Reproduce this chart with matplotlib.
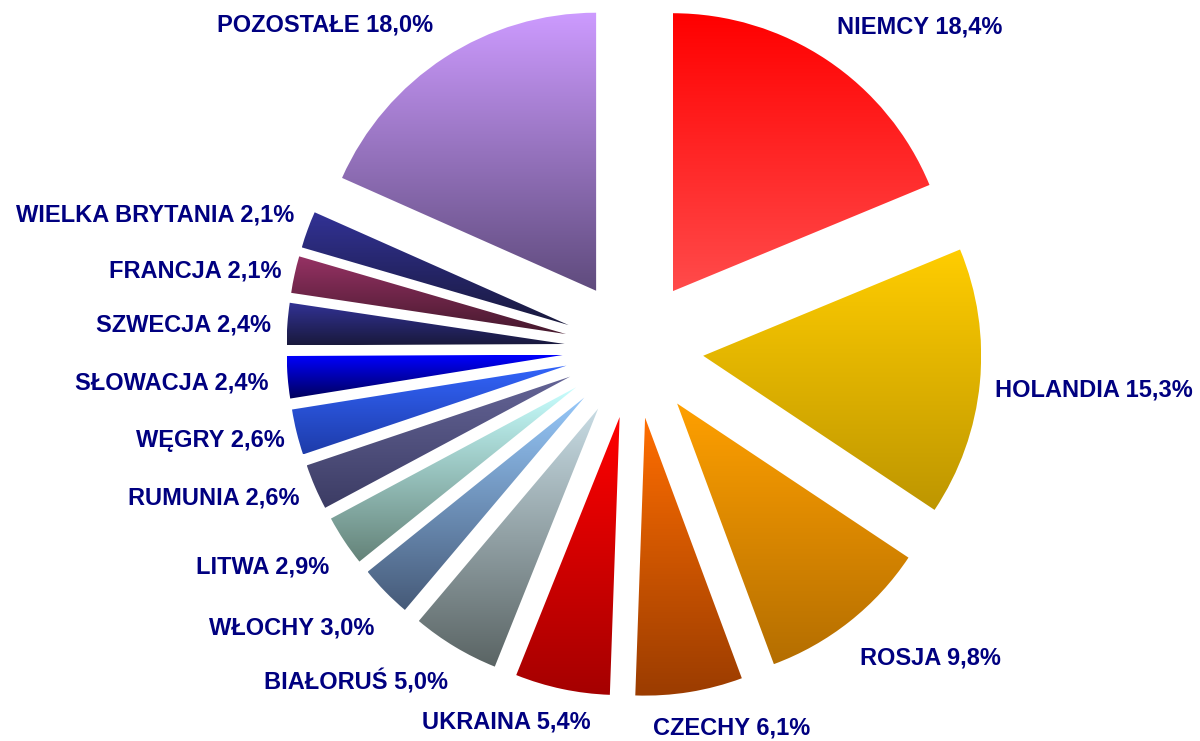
import numpy as np
import matplotlib
matplotlib.use('Agg')
import matplotlib.pyplot as plt
from matplotlib.colors import to_rgb

# data, clockwise from 12 o'clock
countries = ['NIEMCY', 'HOLANDIA', 'ROSJA', 'CZECHY', 'UKRAINA', 'BIAŁORUŚ',
             'WŁOCHY', 'LITWA', 'RUMUNIA', 'WĘGRY', 'SŁOWACJA', 'SZWECJA',
             'FRANCJA', 'WIELKA BRYTANIA', 'POZOSTAŁE']
shares = [18.4, 15.3, 9.8, 6.1, 5.4, 5.0, 3.0, 2.9, 2.6, 2.6, 2.4, 2.4, 2.1, 2.1, 18.0]

# gradient colours: top -> bottom of each slice
top_colors = ['#ff0000', '#ffcd00', '#ffa000', '#ff6e00', '#ff0000', '#c8dce4',
              '#96c8fa', '#c8ffff', '#646496', '#3264fa', '#0000ff', '#323296',
              '#963264', '#323296', '#cd9bff']
bottom_colors = ['#ff4b4b', '#be9600', '#b46e00', '#9b3c00', '#a50000', '#5a6464',
                 '#465a78', '#648278', '#3c3c64', '#1e3caa', '#00005a', '#19193c',
                 '#46192d', '#19193c', '#5f4b7d']

# label centres in pixels (x from left, y from top)
label_px = [(920, 27), (1094, 390), (930, 658), (732, 728), (506, 722), (356, 682),
            (292, 628), (263, 567), (214, 498), (210, 440), (172, 383), (183, 325),
            (195, 271), (155, 215), (325, 25)]

W, H = 1200, 741
R = 278.0          # pie radius in px
cx, cy = 634, 349  # pie centre in px

fig = plt.figure(figsize=(W / 100, H / 100), dpi=100)
ax = fig.add_axes([0, 0, 1, 1])

wedges, _ = ax.pie(shares, startangle=90, counterclock=False,
                   explode=[0.25] * len(shares), radius=1)

t = np.linspace(0, 1, 256)[:, None, None]
for w, c1, c2 in zip(wedges, top_colors, bottom_colors):
    w.set_facecolor('none')
    w.set_edgecolor('none')
    ext = w.get_path().transformed(w.get_patch_transform()).get_extents()
    grad = np.array(to_rgb(c1))[None, None, :] * (1 - t) + np.array(to_rgb(c2))[None, None, :] * t
    grad = np.repeat(grad, 2, axis=1)
    ax.imshow(grad, extent=[ext.x0, ext.x1, ext.y0, ext.y1], origin='upper',
              aspect='auto', clip_path=w, interpolation='bilinear', zorder=1)

ax.set_xlim(-cx / R, (W - cx) / R)
ax.set_ylim(-(H - cy) / R, cy / R)
ax.set_aspect('auto')
ax.axis('off')

for name, val, (px, py) in zip(countries, shares, label_px):
    txt = f'{name} {val:.1f}%'.replace('.', ',')
    fig.text(px / W, 1 - py / H, txt, ha='center', va='center',
             fontsize=17, fontweight='bold', color='#000080',
             family='Liberation Sans')

fig.savefig('out.png', dpi=100)
